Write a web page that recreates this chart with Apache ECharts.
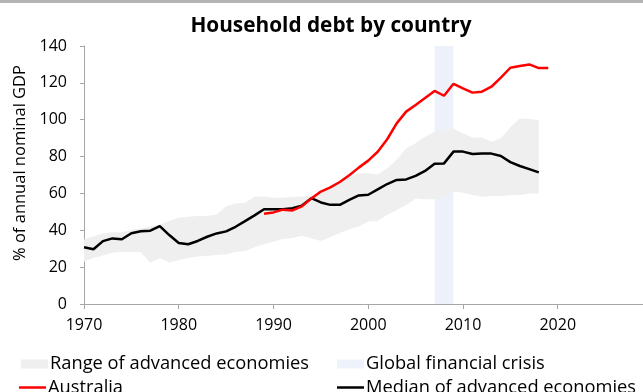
<!DOCTYPE html>
<html>
<head>
<meta charset="utf-8">
<script src="https://cdn.jsdelivr.net/npm/echarts@6/dist/echarts.min.js"></script>
<style>
  html, body { margin: 0; padding: 0; background: #fff; }
  #chart { width: 643px; height: 392px; }
</style>
</head>
<body>
<div id="chart"></div>
<script>
// Household debt, % of annual nominal GDP
const years = [
  1970, 1971, 1972, 1973, 1974, 1975, 1976, 1977, 1978, 1979,
  1980, 1981, 1982, 1983, 1984, 1985, 1986, 1987, 1988, 1989,
  1990, 1991, 1992, 1993, 1994, 1995, 1996, 1997, 1998, 1999,
  2000, 2001, 2002, 2003, 2004, 2005, 2006, 2007, 2008, 2009,
  2010, 2011, 2012, 2013, 2014, 2015, 2016, 2017, 2018
];
const median = [
  30.8, 29.7, 34.1, 35.6, 35.1, 38.4, 39.5, 39.8, 42.3, 37.4,
  33.1, 32.4, 34.2, 36.5, 38.3, 39.4, 41.9, 45.0, 48.1, 51.4,
  51.4, 51.4, 52.0, 53.4, 57.4, 55.1, 53.8, 53.8, 56.5, 58.9,
  59.3, 62.2, 65.1, 67.3, 67.6, 69.5, 72.2, 76.1, 76.3, 82.7,
  82.7, 81.4, 81.6, 81.6, 80.3, 77.0, 74.9, 73.2, 71.4
];
const rangeLow = [
  23.0, 24.9, 26.3, 27.8, 28.3, 28.2, 28.1, 22.4, 24.8, 22.5,
  23.9, 25.0, 25.8, 26.0, 26.6, 27.0, 28.2, 28.8, 30.8, 32.4,
  33.8, 35.3, 35.8, 37.0, 35.6, 34.2, 36.4, 38.5, 40.5, 42.0,
  44.7, 45.2, 48.3, 51.0, 53.7, 57.3, 56.8, 56.8, 58.2, 61.0,
  60.4, 59.1, 58.2, 58.6, 58.6, 59.0, 59.1, 60.0, 60.0
];
const rangeHigh = [
  35.0, 36.7, 38.3, 38.9, 38.9, 40.2, 41.0, 42.0, 43.2, 45.0,
  46.8, 47.3, 47.7, 47.8, 48.6, 53.0, 54.5, 55.0, 58.2, 58.4,
  57.6, 57.6, 58.2, 58.4, 58.6, 60.7, 63.0, 65.5, 69.0, 70.9,
  70.9, 70.3, 73.6, 78.1, 84.5, 87.2, 90.8, 93.5, 94.0, 95.3,
  92.6, 90.4, 90.4, 88.1, 89.9, 95.9, 100.7, 100.4, 99.8
];
const ausYears = [
  1989, 1990, 1991, 1992, 1993, 1994, 1995, 1996, 1997, 1998,
  1999, 2000, 2001, 2002, 2003, 2004, 2005, 2006, 2007, 2008,
  2009, 2010, 2011, 2012, 2013, 2014, 2015, 2016, 2017, 2018, 2019
];
const australia = [
  49.0, 49.7, 51.2, 50.8, 53.0, 57.3, 61.0, 63.3, 66.2, 69.9,
  74.0, 77.8, 82.6, 89.4, 98.0, 104.4, 108.0, 111.8, 115.6, 113.0,
  119.5, 117.0, 114.7, 115.2, 117.9, 122.8, 128.2, 129.1, 130.0, 128.0, 128.0
];
const crisis = [2007, 2009];
const yTicks = [0, 20, 40, 60, 80, 100, 120, 140];
const xTicks = [1970, 1980, 1990, 2000, 2010, 2020];

const names = {
  range: 'Range of advanced economies',
  crisis: 'Global financial crisis',
  aus: 'Australia',
  median: 'Median of advanced economies'
};

const FONT = 'Open Sans';
const GREY_BAND = '#efefef';
const pair = (xs, ys) => xs.map((x, i) => [x, ys[i]]);

const chart = echarts.init(document.getElementById('chart'), null, { renderer: 'canvas' });

const legendBase = {
  orient: 'horizontal',
  padding: 0,
  itemWidth: 27,
  selectedMode: false,
  textStyle: { fontFamily: FONT, fontSize: 18.3, color: '#000', lineHeight: 18, padding: [0, 0, 0, -3] }
};

// Band between the lowest and highest economy, drawn as one polygon
function renderRange(params, api) {
  if (params.dataIndex !== 0) return null;
  const top = [], bottom = [];
  for (let i = 0; i < years.length; i++) {
    top.push(api.coord([years[i], rangeHigh[i]]));
    bottom.unshift(api.coord([years[i], rangeLow[i]]));
  }
  return {
    type: 'polygon',
    shape: { points: top.concat(bottom) },
    style: { fill: GREY_BAND, stroke: null },
    silent: true
  };
}

chart.setOption({
  animation: false,
  backgroundColor: '#fff',
  textStyle: { fontFamily: FONT },
  title: {
    text: 'Household debt by country',
    left: 326,
    textAlign: 'center',
    top: 11,
    textStyle: { fontFamily: FONT, fontSize: 20.8, fontWeight: 'bold', color: '#000' }
  },
  graphic: [{
    type: 'rect',
    shape: { x: 0, y: 0, width: 643, height: 3 },
    style: { fill: '#b3b3b3' },
    silent: true
  }],
  legend: [
    Object.assign({}, legendBase, {
      left: 21, top: 355, itemHeight: 9,
      data: [{ name: names.range, icon: 'rect', itemStyle: { color: GREY_BAND } }]
    }),
    Object.assign({}, legendBase, {
      left: 337, top: 355, itemHeight: 9,
      data: [{ name: names.crisis, icon: 'rect', itemStyle: { color: '#edf2fb' } }]
    }),
    Object.assign({}, legendBase, {
      left: 19, top: 378.5, itemHeight: 2.5,
      data: [{ name: names.aus, icon: 'rect', itemStyle: { color: '#ff0000' } }]
    }),
    Object.assign({}, legendBase, {
      left: 337, top: 378.5, itemHeight: 2.5,
      data: [{ name: names.median, icon: 'rect', itemStyle: { color: '#000' } }]
    })
  ],
  grid: { left: 84, right: 0, top: 46, bottom: 88, containLabel: false },
  xAxis: {
    type: 'value',
    min: 1970,
    max: 2029,
    interval: 10,
    splitLine: { show: false },
    axisLine: { lineStyle: { color: '#a6a6a6', width: 1 } },
    axisTick: { show: true, length: 5, lineStyle: { color: '#a6a6a6' } },
    axisLabel: {
      margin: 13,
      fontFamily: FONT,
      fontSize: 16,
      color: '#000',
      showMaxLabel: false,
      formatter: v => (xTicks.indexOf(v) >= 0 ? String(v) : '')
    }
  },
  yAxis: {
    type: 'value',
    min: 0,
    max: 140,
    interval: 20,
    name: '% of annual nominal GDP',
    nameLocation: 'middle',
    nameGap: 52,
    nameTextStyle: { fontFamily: FONT, fontSize: 16.5, color: '#000', padding: [0, 0, 0, 24] },
    splitLine: { show: false },
    axisLine: { show: true, lineStyle: { color: '#a6a6a6', width: 1 } },
    axisTick: { show: true, length: 4, lineStyle: { color: '#a6a6a6' } },
    axisLabel: {
      margin: 17,
      fontFamily: FONT,
      fontSize: 16,
      color: '#000',
      formatter: v => (yTicks.indexOf(v) >= 0 ? String(v) : '')
    }
  },
  series: [
    {
      name: names.range,
      type: 'custom',
      z: 1,
      color: GREY_BAND,
      renderItem: renderRange,
      encode: { x: 0, y: [1, 2] },
      data: years.map((y, i) => [y, rangeLow[i], rangeHigh[i]]),
      silent: true
    },
    {
      name: names.crisis,
      type: 'line',
      symbol: 'none',
      z: 2,
      color: '#edf2fb',
      data: [],
      markArea: {
        silent: true,
        itemStyle: { color: 'rgba(200,215,240,0.32)' },
        data: [[{ xAxis: crisis[0] }, { xAxis: crisis[1] }]]
      }
    },
    {
      name: names.median,
      type: 'line',
      symbol: 'none',
      z: 3,
      color: '#000',
      lineStyle: { color: '#000', width: 2.5 },
      data: pair(years, median)
    },
    {
      name: names.aus,
      type: 'line',
      symbol: 'none',
      z: 4,
      color: '#ff0000',
      lineStyle: { color: '#ff0000', width: 2.5 },
      data: pair(ausYears, australia)
    }
  ]
});
</script>
</body>
</html>
